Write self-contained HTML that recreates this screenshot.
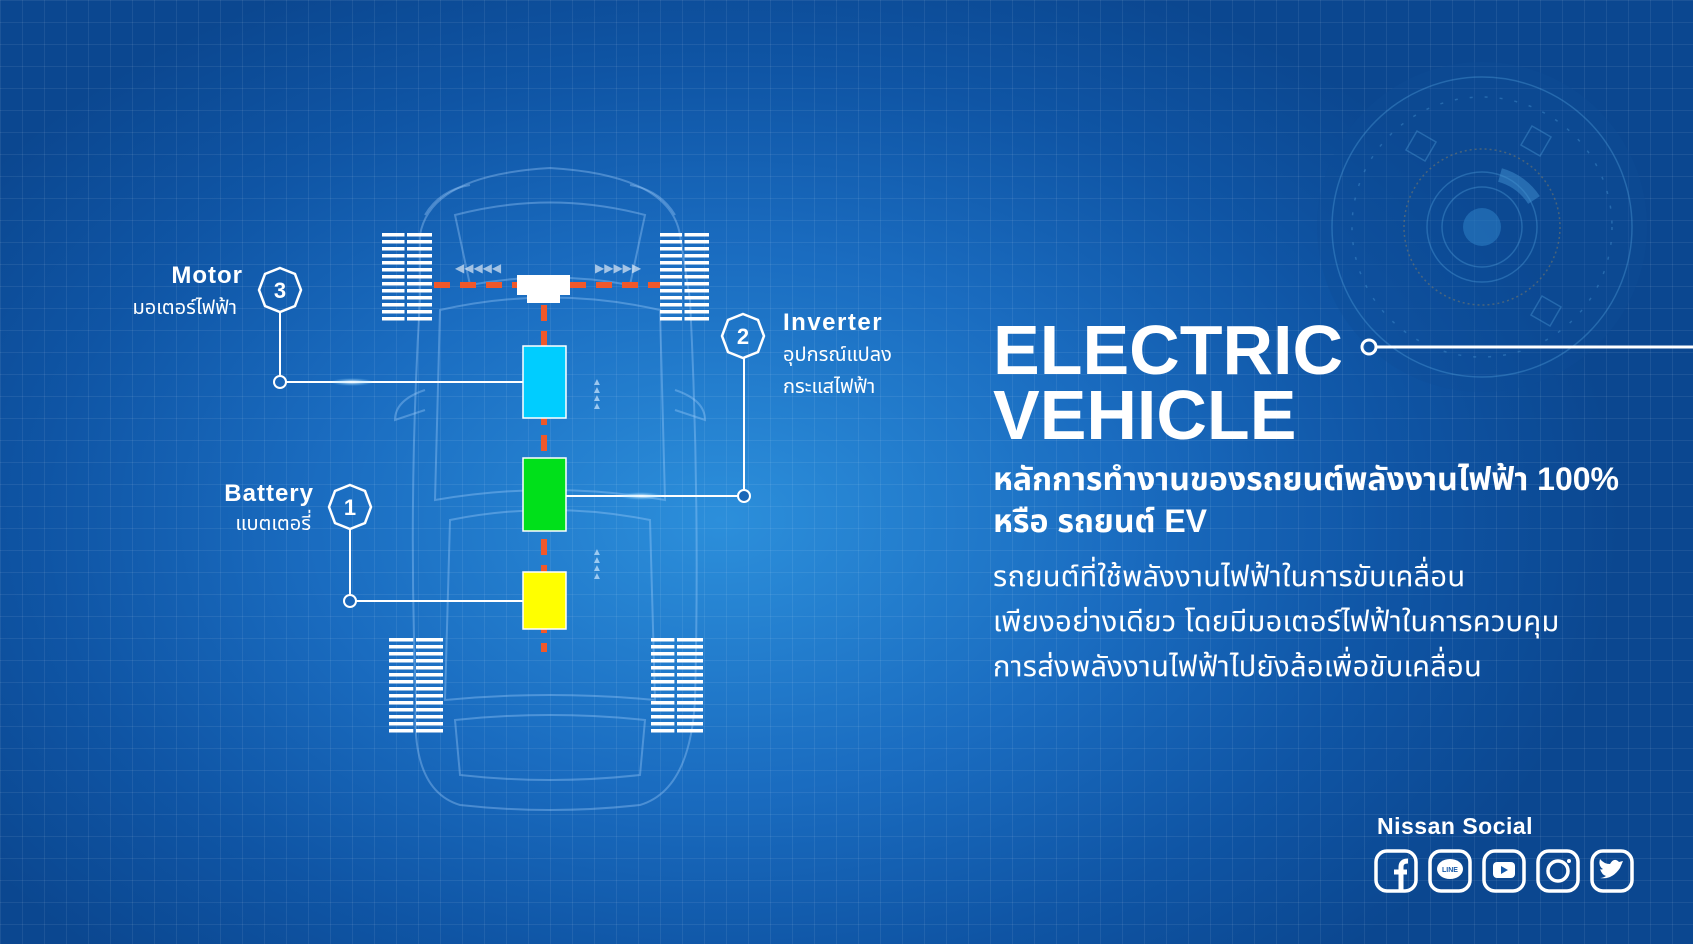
<!DOCTYPE html>
<html><head><meta charset="utf-8"><style>
html,body{margin:0;padding:0}
body{width:1693px;height:944px;overflow:hidden;position:relative;font-family:"Liberation Sans",sans-serif;color:#fff;
background:radial-gradient(ellipse 900px 600px at 720px 520px,#2c8fdb 0%,#1a6cc0 45%,#0f55a5 75%,#0b4790 100%);}
.grid{position:absolute;inset:0;background-image:linear-gradient(rgba(255,255,255,.07) 1px,transparent 1px),linear-gradient(90deg,rgba(255,255,255,.07) 1px,transparent 1px);background-size:22px 22px;}
.t{position:absolute;white-space:nowrap}
.b{font-weight:bold}
.th{font-family:"Liberation Sans","Noto Sans Thai","Loma","Garuda",sans-serif}
svg{position:absolute;left:0;top:0}
</style></head><body>
<div class="grid"></div>
<svg width="1693" height="944">
<defs>
<radialGradient id="glow"><stop offset="0" stop-color="#fff" stop-opacity=".9"/><stop offset="1" stop-color="#7fd0ff" stop-opacity="0"/></radialGradient>
</defs>
<!-- HUD -->
<circle cx="1482" cy="227" r="165" fill="#0d4c98" opacity=".35"/>
<g fill="none" stroke="#5fb4ea" stroke-opacity=".3" stroke-width="1.5">
<circle cx="1482" cy="227" r="150"/>
<circle cx="1482" cy="227" r="130" stroke-dasharray="3 12"/>
<circle cx="1482" cy="227" r="78" stroke="#d6a040" stroke-dasharray="2 3"/>
<circle cx="1482" cy="227" r="55"/>
<circle cx="1482" cy="227" r="40"/>
<rect x="1410" y="135" width="22" height="22" transform="rotate(30 1421 146)"/>
<rect x="1525" y="130" width="22" height="22" transform="rotate(30 1536 141)"/>
<rect x="1535" y="300" width="22" height="22" transform="rotate(30 1546 311)"/>
</g>
<circle cx="1482" cy="227" r="19" fill="#2f86cc" opacity=".5"/>
<path d="M1500 175 A60 60 0 0 1 1534 200" stroke="#3f90d0" stroke-width="14" fill="none" opacity=".5"/>
<!-- car outline -->
<g fill="none" stroke="#a8d4ff" stroke-opacity=".35" stroke-width="2">
<path d="M420 235 Q430 175 550 168 Q670 175 680 235 L690 300 Q700 500 695 700 Q690 790 640 805 Q550 815 460 805 Q410 790 416 700 Q408 500 420 300 Z"/>
<path d="M440 310 Q550 285 660 310 L665 500 Q550 480 435 500 Z"/>
<path d="M455 215 Q550 190 645 215 L630 285 Q550 270 470 285 Z"/>
<path d="M450 520 Q550 500 650 520 L655 700 Q550 690 445 700 Z"/>
<path d="M455 720 Q550 710 645 720 L640 775 Q550 785 460 775 Z"/>
<path d="M425 390 Q395 400 395 420 L425 410"/><path d="M675 390 Q705 400 705 420 L675 410"/>
<path d="M425 215 Q440 190 470 185"/><path d="M675 215 Q660 190 630 185"/>
</g>
<g fill="#fff" id="tires"></g>
<!-- connectors -->
<g stroke="#fff" stroke-width="2" fill="none">
<polygon points="280,268 295,274 301,290 295,306 280,312 265,306 259,290 265,274" stroke-width="2.5"/>
<line x1="280" y1="312" x2="280" y2="376"/>
<circle cx="280" cy="382" r="6" fill="#1a66b8"/>
<line x1="286" y1="382" x2="523" y2="382"/>
<polygon points="350,485 365,491 371,507 365,523 350,529 335,523 329,507 335,491" stroke-width="2.5"/>
<line x1="350" y1="529" x2="350" y2="595"/>
<circle cx="350" cy="601" r="6" fill="#1a66b8"/>
<line x1="356" y1="601" x2="523" y2="601"/>
<polygon points="743,314 758,320 764,336 758,352 743,358 728,352 722,336 728,320" stroke-width="2.5"/>
<line x1="744" y1="358" x2="744" y2="490"/>
<circle cx="744" cy="496" r="6" fill="#1a66b8"/>
<line x1="566" y1="496" x2="738" y2="496"/>
<circle cx="1369" cy="347" r="7" stroke-width="3"/>
<line x1="1376" y1="347" x2="1693" y2="347" stroke-width="3"/>
</g>
<ellipse cx="352" cy="382" rx="22" ry="4" fill="url(#glow)"/>
<ellipse cx="641" cy="496" rx="22" ry="4" fill="url(#glow)"/>
<!-- dashed -->
<g stroke="#f0582a" stroke-width="6" stroke-dasharray="16 10" fill="none">
<line x1="434" y1="285" x2="517" y2="285"/><line x1="570" y1="285" x2="660" y2="285"/>
<line x1="544" y1="305" x2="544" y2="652"/>
</g>
<path d="M517 275 H570 V295 H560 V303 H527 V295 H517 Z" fill="#fff"/>
<rect x="523" y="346" width="43" height="72" fill="#00cdff" stroke="#fff" stroke-width="1.5"/>
<rect x="523" y="458" width="43" height="73" fill="#00e01a" stroke="#fff" stroke-width="1.5"/>
<rect x="523" y="572" width="43" height="57" fill="#ffff00" stroke="#fff" stroke-width="1.5"/>
<g fill="#fff" opacity=".6">
<text x="455" y="272" font-size="12">◀◀◀◀◀</text><text x="595" y="272" font-size="12">▶▶▶▶▶</text>
</g>
<g fill="#cfe8ff" opacity=".7" font-size="10"><text x="592" y="385">▲</text><text x="592" y="393">▲</text><text x="592" y="401">▲</text><text x="592" y="409">▲</text>
<text x="592" y="555">▲</text><text x="592" y="563">▲</text><text x="592" y="571">▲</text><text x="592" y="579">▲</text></g>
<g fill="#fff" font-family="Liberation Sans" font-weight="bold" font-size="22" text-anchor="middle">
<text x="280" y="298">3</text><text x="350" y="515">1</text><text x="743" y="344">2</text></g>
<!-- social -->
<g fill="none" stroke="#fff" stroke-width="3.5">
<rect x="1376" y="851" width="40" height="40" rx="11"/><rect x="1430" y="851" width="40" height="40" rx="11"/><rect x="1484" y="851" width="40" height="40" rx="11"/><rect x="1538" y="851" width="40" height="40" rx="11"/><rect x="1592" y="851" width="40" height="40" rx="11"/>
<path d="M1401 891 V867 Q1401 861 1408 861 M1394 872 H1407" stroke-width="5"/>
<circle cx="1558" cy="871" r="10" stroke-width="3.5"/>
</g>
<ellipse cx="1450" cy="869" rx="13" ry="10" fill="#fff"/><text x="1450" y="872" font-size="7" font-weight="bold" fill="#1458a8" text-anchor="middle">LINE</text>
<rect x="1493" y="862" width="22" height="16" rx="4" fill="#fff"/><path d="M1501 866 L1508 870 L1501 874Z" fill="#1458a8"/>
<circle cx="1569" cy="861" r="2" fill="#fff"/>
<path d="M1600 878 Q1612 880 1620 868 L1623 861 L1619 862 Q1614 857 1610 864 Q1604 864 1600 859 Q1598 866 1603 869 Q1601 870 1600 869 Q1602 875 1606 876 Q1603 878 1600 878Z" fill="#fff"/>
</svg>
<script>
var g=document.getElementById('tires'),s='';
[[382,233,50,91],[660,233,49,91],[389,638,54,98],[651,638,52,98]].forEach(function(t){
 for(var y=t[1];y<t[1]+t[3];y+=7){s+='<rect x="'+t[0]+'" y="'+y+'" width="'+(t[2]*0.45)+'" height="3.5"/><rect x="'+(t[0]+t[2]*0.5)+'" y="'+y+'" width="'+(t[2]*0.5)+'" height="3.5"/>';}
});g.innerHTML=s;
</script>
<div class="t b" style="right:1450px;top:262px;font-size:24px;letter-spacing:1px">Motor</div>
<div class="t th" style="right:1456px;top:293px;font-size:20px">มอเตอร์ไฟฟ้า</div>
<div class="t b" style="right:1379px;top:480px;font-size:24px;letter-spacing:1px">Battery</div>
<div class="t th" style="right:1382px;top:509px;font-size:20px">แบตเตอรี่</div>
<div class="t b" style="left:783px;top:309px;font-size:24px;letter-spacing:1.5px">Inverter</div>
<div class="t th" style="left:783px;top:340px;font-size:20px">อุปกรณ์แปลง</div>
<div class="t th" style="left:783px;top:372px;font-size:20px">กระแสไฟฟ้า</div>
<div class="t b" style="left:993px;top:315px;font-size:70px;line-height:1">ELECTRIC</div>
<div class="t b" style="left:993px;top:380px;font-size:70px;line-height:1">VEHICLE</div>
<div class="t th b" style="left:993px;top:458px;font-size:32px;line-height:42px">หลักการทำงานของรถยนต์พลังงานไฟฟ้า 100%<br>หรือ รถยนต์ EV</div>
<div class="t th" style="left:993px;top:555px;font-size:29px;line-height:45px;letter-spacing:.3px">รถยนต์ที่ใช้พลังงานไฟฟ้าในการขับเคลื่อน<br>เพียงอย่างเดียว โดยมีมอเตอร์ไฟฟ้าในการควบคุม<br>การส่งพลังงานไฟฟ้าไปยังล้อเพื่อขับเคลื่อน</div>
<div class="t b" style="left:1377px;top:813px;font-size:23px;letter-spacing:.5px">Nissan Social</div>
</body></html>
